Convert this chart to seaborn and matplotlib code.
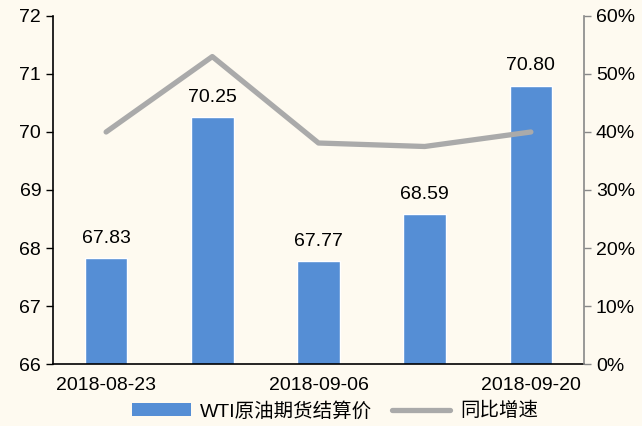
import numpy as np
import pandas as pd
import matplotlib
matplotlib.use("Agg")
import matplotlib.pyplot as plt
from matplotlib.patches import Patch
from matplotlib.lines import Line2D
import seaborn as sns

dates = ["2018-08-23", "2018-08-30", "2018-09-06", "2018-09-13", "2018-09-20"]
wti_price = [67.83, 70.25, 67.77, 68.59, 70.80]
yoy_growth = [0.40, 0.53, 0.381, 0.375, 0.40]
shown_dates = ["2018-08-23", "2018-09-06", "2018-09-20"]

BG = "#FEFAF0"
BAR_COLOR = "#558ED5"
LINE_COLOR = "#AAAAAA"
FS = 14

sns.set_style("white")
plt.rcParams["font.family"] = ["Liberation Sans", "Noto Sans CJK SC"]
plt.rcParams["font.size"] = FS
plt.rcParams["text.color"] = "black"
plt.rcParams["xtick.color"] = "black"
plt.rcParams["ytick.color"] = "black"

df = pd.DataFrame({"date": dates, "price": wti_price, "yoy": yoy_growth})

fig = plt.figure(figsize=(6.42, 4.26), dpi=100, facecolor=BG)
ax = fig.add_axes([0.0826, 0.1455, 0.827, 0.817])
ax.set_facecolor(BG)

sns.barplot(data=df, x="date", y="price", color=BAR_COLOR, width=0.4,
            saturation=1, ax=ax)
ax.set_ylim(66, 72)
ax.set_yticks(range(66, 73))
ax.set_xlim(-0.5, len(dates) - 0.5)
ax.bar_label(ax.containers[0], fmt="%.2f", padding=8, fontsize=FS, color="black")

# category boundary ticks, labels on every other date
ax.set_xticks(np.arange(-0.5, len(dates), 1))
ax.set_xticklabels([])
ax.set_xticks([dates.index(d) for d in shown_dates], minor=True)
ax.set_xticklabels(shown_dates, minor=True)
ax.tick_params(axis="x", which="major", length=5, width=1, color="black", direction="out")
ax.tick_params(axis="x", which="minor", length=0, pad=9, labelsize=FS, labelcolor="black")
ax.tick_params(axis="y", length=5, width=1, color="black", direction="out", left=True,
               labelsize=FS, labelcolor="black")
ax.set_xlabel("")
ax.set_ylabel("")
for s in ["top", "right"]:
    ax.spines[s].set_visible(False)
for s in ["left", "bottom"]:
    ax.spines[s].set_color("black")
    ax.spines[s].set_linewidth(1.2)

ax2 = ax.twinx()
sns.lineplot(data=df, x="date", y="yoy", color=LINE_COLOR, linewidth=3.8,
             sort=False, ax=ax2, solid_capstyle="round")
ax2.set_ylim(0, 0.6)
ax2.set_yticks(np.arange(0, 0.61, 0.1))
ax2.set_yticklabels([f"{v:.0%}" for v in np.arange(0, 0.61, 0.1)])
ax2.set_xlim(-0.5, len(dates) - 0.5)
ax2.set_ylabel("")
ax2.tick_params(axis="y", length=5, width=1, color="#888888", direction="out", right=True,
                labelsize=FS, labelcolor="black")
for s in ["top", "left", "bottom"]:
    ax2.spines[s].set_visible(False)
ax2.spines["right"].set_color("#888888")
ax2.spines["right"].set_linewidth(1.2)

handles = [Patch(facecolor=BAR_COLOR, edgecolor="none"),
           Line2D([0], [0], color=LINE_COLOR, linewidth=3.8)]
fig.legend(handles, ["WTI原油期货结算价", "同比增速"], loc="center",
           bbox_to_anchor=(0.522, 0.035), ncol=2, frameon=False, fontsize=FS,
           handlelength=3.0, columnspacing=1.0, handletextpad=0.5)

fig.savefig("out.png", dpi=100, facecolor=BG)
